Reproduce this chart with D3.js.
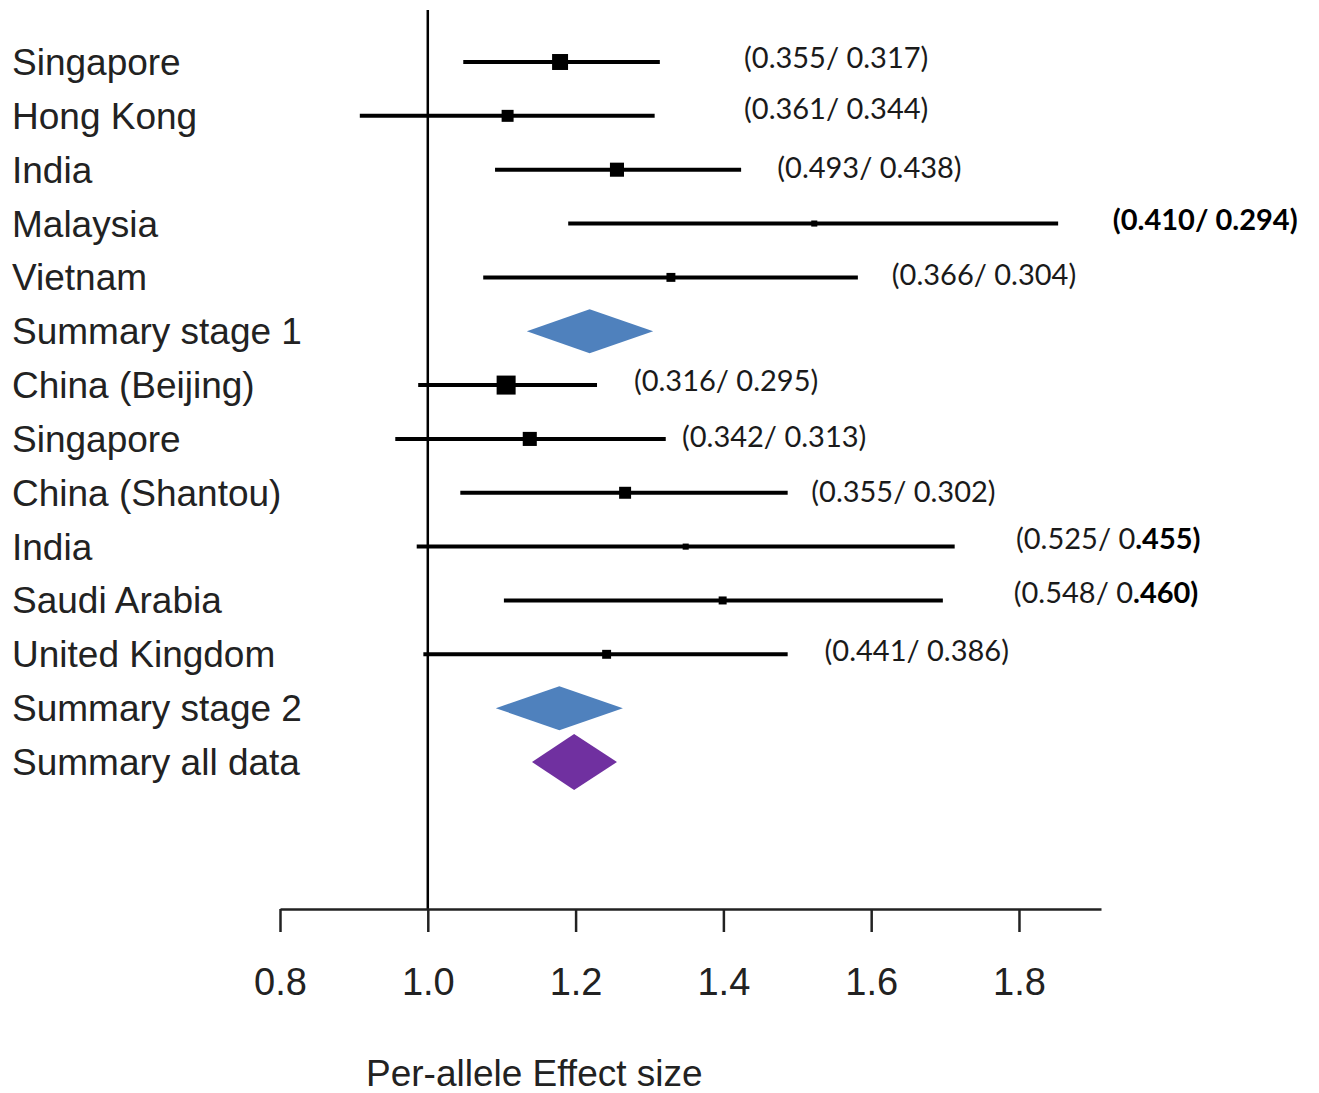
<!DOCTYPE html>
<html>
<head>
<meta charset="utf-8">
<script src="https://cdn.jsdelivr.net/npm/d3@7"></script>
<style>
  html, body { margin: 0; padding: 0; background: #fff; }
  svg { display: block; }
</style>
</head>
<body>
<svg id="chart" width="1319" height="1093"></svg>
<script>
// Study rows, top to bottom
const studies = ["Singapore", "Hong Kong", "India", "Malaysia", "Vietnam", "Summary stage 1",
  "China (Beijing)", "Singapore", "China (Shantou)", "India", "Saudi Arabia", "United Kingdom",
  "Summary stage 2", "Summary all data"];
// row type: study, stage summary, overall summary
const rowType = ["study", "study", "study", "study", "study", "summary",
  "study", "study", "study", "study", "study", "study",
  "summary", "overall"];
// per-allele effect size and 95% CI
const effect = [1.179, 1.108, 1.256, 1.523, 1.329, 1.219, 1.106, 1.138, 1.267, 1.349, 1.399, 1.242, 1.178, 1.198];
const lower  = [1.048, 0.908, 1.091, 1.190, 1.075, 1.134, 0.987, 0.956, 1.044, 0.985, 1.103, 0.994, 1.092, 1.141];
const upper  = [1.314, 1.307, 1.424, 1.853, 1.582, 1.305, 1.229, 1.322, 1.487, 1.713, 1.697, 1.487, 1.264, 1.256];
// relative study weight (drives square size)
const weight = [8.4, 6.3, 7.4, 3.2, 4.7, null, 10, 7.4, 6.3, 3.2, 4.2, 4.7, null, null];
// allele frequencies (cases / controls)
const freqCase    = ["0.355", "0.361", "0.493", "0.410", "0.366", null, "0.316", "0.342", "0.355", "0.525", "0.548", "0.441", null, null];
const freqControl = ["0.317", "0.344", "0.438", "0.294", "0.304", null, "0.295", "0.313", "0.302", "0.455", "0.460", "0.386", null, null];
// x-axis ticks
const tickValues = [0.8, 1.0, 1.2, 1.4, 1.6, 1.8];
const axisTitle = "Per-allele Effect size";

// ---- layout ----
const svg = d3.select("#chart");
const x = d3.scaleLinear().domain([0.8, 1.911]).range([280, 1101]);
const y = d3.scalePoint().domain(d3.range(studies.length)).range([62, 762]);
const sq = d3.scaleLinear().domain([0, 10]).range([0, 19]);
const axisY = 909;

// where each frequency note starts (effect-size units) and its emphasis
const noteAt = [1.428, 1.428, 1.473, 1.927, 1.628, null, 1.279, 1.344, 1.519, 1.796, 1.793, 1.537, null, null];
const noteBold = ["none", "none", "none", "all", "none", null, "none", "none", "none", "tail", "tail", "none", null, null];
const noteDy = [-6, -8, -3, -5, -4, 0, -6, -3, -2, -10, -9, -5, 0, 0];
const diamondColor = { summary: "#4F81BD", overall: "#7030A0" };
const diamondHalf = { summary: 22, overall: 28 };

// reference line at no effect
svg.append("line")
  .attr("x1", x(1.0)).attr("x2", x(1.0))
  .attr("y1", 10).attr("y2", axisY)
  .attr("stroke", "#000").attr("stroke-width", 2.5);

// row labels
svg.append("g").selectAll("text")
  .data(studies)
  .join("text")
  .attr("x", 12)
  .attr("y", (d, i) => y(i) + 13)
  .attr("font-family", "'Liberation Sans', Arial, sans-serif")
  .attr("font-size", 37)
  .attr("fill", "#222")
  .text(d => d);

const idx = d3.range(studies.length);
const studyIdx = idx.filter(i => rowType[i] === "study");
const sumIdx = idx.filter(i => rowType[i] !== "study");

// confidence interval lines
svg.append("g").selectAll("line")
  .data(studyIdx)
  .join("line")
  .attr("x1", i => x(lower[i])).attr("x2", i => x(upper[i]))
  .attr("y1", i => y(i)).attr("y2", i => y(i))
  .attr("stroke", "#000").attr("stroke-width", 4);

// point estimates
svg.append("g").selectAll("rect")
  .data(studyIdx)
  .join("rect")
  .attr("x", i => x(effect[i]) - sq(weight[i]) / 2)
  .attr("y", i => y(i) - sq(weight[i]) / 2)
  .attr("width", i => sq(weight[i]))
  .attr("height", i => sq(weight[i]))
  .attr("fill", "#000");

// summary diamonds
svg.append("g").selectAll("path")
  .data(sumIdx)
  .join("path")
  .attr("d", i => {
    const h = diamondHalf[rowType[i]], cy = y(i);
    return `M${x(lower[i])},${cy}L${x(effect[i])},${cy - h}L${x(upper[i])},${cy}L${x(effect[i])},${cy + h}Z`;
  })
  .attr("fill", i => diamondColor[rowType[i]]);

// allele frequency notes
const notes = svg.append("g")
  .attr("font-family", "Lato, 'Open Sans', sans-serif")
  .attr("font-size", 29)
  .attr("fill", "#1a1a1a");
studyIdx.forEach(i => {
  const t = notes.append("text")
    .attr("x", x(noteAt[i]))
    .attr("y", y(i) + noteDy[i])
    .attr("dominant-baseline", "central");
  if (noteBold[i] === "all") {
    t.attr("font-weight", "bold").attr("fill", "#000")
      .text(`(${freqCase[i]}/ ${freqControl[i]})`);
  } else if (noteBold[i] === "tail") {
    t.append("tspan").text(`(${freqCase[i]}/ ${freqControl[i].slice(0, 1)}`);
    t.append("tspan").attr("font-weight", "bold").attr("fill", "#000")
      .text(`${freqControl[i].slice(1)})`);
  } else {
    t.text(`(${freqCase[i]}/ ${freqControl[i]})`);
  }
});

// x axis
const axis = svg.append("g")
  .attr("transform", `translate(0,${axisY})`)
  .call(d3.axisBottom(x).tickValues(tickValues).tickFormat(d3.format(".1f"))
    .tickSize(23).tickSizeOuter(0).tickPadding(40));
axis.select(".domain").attr("stroke", "#222").attr("stroke-width", 2.5);
axis.selectAll(".tick line").attr("stroke", "#222").attr("stroke-width", 2.5);
axis.selectAll(".tick text")
  .attr("font-family", "'Liberation Sans', Arial, sans-serif")
  .attr("font-size", 38)
  .attr("fill", "#222")
  .attr("dy", "0.32em")
  .attr("y", 74);

// axis title
svg.append("text")
  .attr("x", 366)
  .attr("y", 1086)
  .attr("font-family", "'Liberation Sans', Arial, sans-serif")
  .attr("font-size", 37)
  .attr("fill", "#222")
  .text(axisTitle);
</script>
</body>
</html>
